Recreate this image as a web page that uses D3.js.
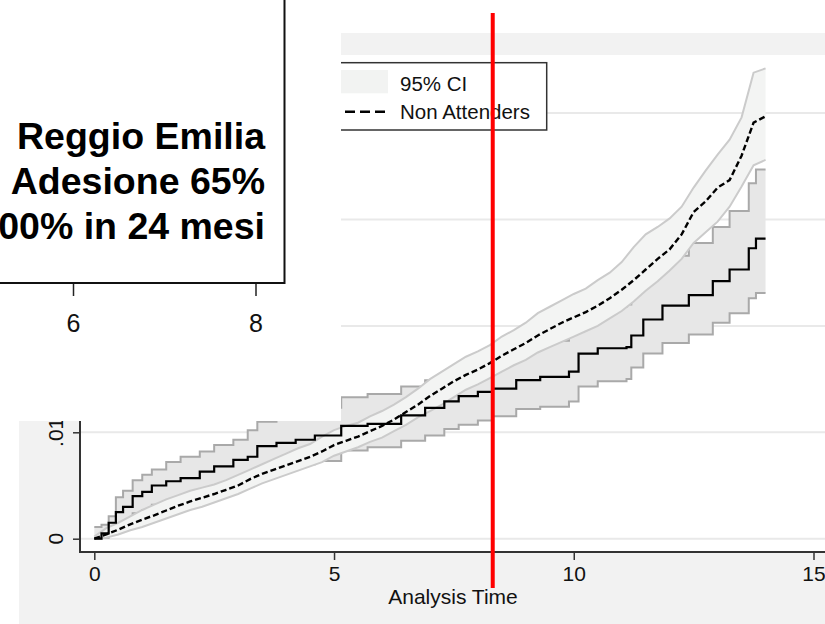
<!DOCTYPE html>
<html>
<head>
<meta charset="utf-8">
<script src="https://cdn.jsdelivr.net/npm/d3@7"></script>
<style>
  body { margin: 0; background: #fff; }
  svg { display: block; font-family: "Liberation Sans", Arial, sans-serif; }
</style>
</head>
<body>
<div id="chart"></div>
<script>
// Attenders (solid) - Nelson-Aalen cumulative hazard with 95% CI
const attTimes = [0, 0.15, 0.3, 0.45, 0.6, 0.8, 1.0, 1.2, 1.5, 1.8, 2.2, 2.5, 2.9, 3.2, 3.4, 3.8, 4.2, 4.6, 5.15, 5.7, 6.4, 6.9, 7.3, 7.6, 8.0, 8.3, 8.8, 9.3, 9.9, 10.1, 10.5, 11.1, 11.2, 11.45, 11.85, 12.4, 12.9, 13.25, 13.65, 13.8, 14.0];
const attHaz = [0, .0005, .0015, .0025, .0030, .0040, .0044, .0050, .0054, .0057, .0063, .0068, .0074, .0077, .0087, .0090, .0093, .0097, .0106, .0108, .0116, .0123, .0129, .0134, .0138, .0141, .0149, .0152, .0157, .0174, .0179, .0180, .0191, .0206, .0219, .0229, .0242, .0253, .0273, .0282, .0282];
const attUpper = [.0011, .0013, .0021, .0039, .0045, .0055, .0060, .0065, .0072, .0077, .0082, .0088, .0093, .0102, .0110, .0114, .0118, .0123, .0133, .0136, .0143, .0149, .0155, .0162, .0170, .0173, .0182, .0186, .0193, .0212, .0218, .0220, .0233, .0251, .0266, .0278, .0293, .0308, .0334, .0347, .0347];
const attLower = [0, .0001, .0006, .0012, .0016, .0024, .0027, .0032, .0035, .0038, .0043, .0047, .0052, .0055, .0064, .0067, .0070, .0073, .0083, .0086, .0092, .0097, .0103, .0107, .0111, .0115, .0122, .0124, .0129, .0143, .0148, .0150, .0161, .0174, .0184, .0192, .0203, .0212, .0226, .0231, .0231];

// Non Attenders (dashed)
const nonTimes = [0, 0.25, 0.5, 0.75, 1, 1.25, 1.5, 1.75, 2, 2.25, 2.5, 2.75, 3, 3.25, 3.5, 3.75, 4, 4.25, 4.5, 4.75, 5, 5.25, 5.5, 5.75, 6, 6.25, 6.5, 6.75, 7, 7.25, 7.5, 7.75, 8, 8.25, 8.5, 8.75, 9, 9.25, 9.5, 9.75, 10, 10.25, 10.5, 10.75, 11, 11.25, 11.5, 11.75, 12, 12.25, 12.5, 12.75, 13, 13.25, 13.5, 13.75, 14];
const nonHaz = [0, .0004, .00085, .00135, .0018, .0022, .00265, .0031, .0035, .00385, .0042, .0046, .0050, .0056, .0061, .0065, .0069, .0073, .0077, .0082, .0088, .0092, .0096, .0101, .0106, .0112, .0119, .0126, .0134, .0141, .0148, .0154, .0159, .0165, .0172, .0178, .0184, .0191, .0197, .0203, .0208, .0213, .0219, .0226, .0234, .0243, .0253, .0263, .0272, .0286, .0307, .0317, .0330, .0337, .0360, .0391, .0397];
const nonUpper = [.0002, .0010, .0015, .0021, .0027, .0032, .0037, .0041, .0045, .0048, .0051, .0055, .0060, .0065, .0070, .0075, .0080, .0085, .0089, .0096, .0102, .0106, .0109, .0115, .0120, .0126, .0133, .0141, .0150, .0157, .0164, .0171, .0176, .0182, .0190, .0196, .0203, .0212, .0218, .0224, .0230, .0235, .0243, .0250, .0260, .0274, .0286, .0293, .0301, .0312, .0330, .0346, .0361, .0375, .0396, .0438, .0442];
const nonLower = [0, .0001, .0004, .0008, .0011, .0015, .0019, .0023, .0027, .0030, .0034, .0038, .0042, .0047, .0052, .0056, .0060, .0064, .0068, .0072, .0078, .0082, .0086, .0091, .0095, .0101, .0107, .0114, .0120, .0126, .0133, .0140, .0145, .0151, .0157, .0163, .0168, .0175, .0180, .0185, .0190, .0195, .0200, .0207, .0214, .0223, .0233, .0242, .0252, .0263, .0278, .0288, .0298, .0312, .0331, .0351, .0356];

const xTicks = [0, 5, 10, 15];
const yTicks = [0, 0.01, 0.02, 0.03, 0.04];
const yLabelTicks = [0, 0.01];
const markerTime = 8.31;

const legendItems = ["95% CI", "Non Attenders"];
const boxLines = ["Reggio Emilia", "Adesione 65%", "00% in 24 mesi"];
const boxTicks = [6, 8];

const W = 825, H = 624;
const svg = d3.select("#chart").append("svg")
    .attr("width", W)
    .attr("height", H);

svg.append("rect").attr("width", W).attr("height", H).attr("fill", "#fff");

// stata outer region and plot region
svg.append("rect").attr("x", 19).attr("y", 33).attr("width", W - 19).attr("height", H - 33).attr("fill", "#f2f2f2");
svg.append("rect").attr("x", 80).attr("y", 55).attr("width", W - 80).attr("height", 552 - 55).attr("fill", "#fff");

const x = d3.scaleLinear().domain([0, 15]).range([94.3, 813.5]);
const y = d3.scaleLinear().domain([0, 0.04]).range([538.7, 113.1]);

// gridlines
svg.append("g").selectAll("line")
    .data(yTicks)
    .enter().append("line")
    .attr("x1", 80).attr("x2", W)
    .attr("y1", d => y(d)).attr("y2", d => y(d))
    .attr("stroke", "#e9e9e9")
    .attr("stroke-width", 2);

svg.append("defs").append("clipPath").attr("id", "plotclip")
    .append("rect").attr("x", 80).attr("y", 55).attr("width", W - 80).attr("height", 497);

const plot = svg.append("g").attr("clip-path", "url(#plotclip)");

const toRows = (times, est, lo, hi) => times.map((t, i) => ({ t: t, est: est[i], lo: lo[i], hi: hi[i] }));
const att = toRows(attTimes, attHaz, attLower, attUpper);
const non = toRows(nonTimes, nonHaz, nonLower, nonUpper);

const bandOf = curve => d3.area().curve(curve)
    .x(d => x(d.t)).y0(d => y(d.lo)).y1(d => y(d.hi));
const lineOf = (key, curve) => d3.line().curve(curve)
    .x(d => x(d.t)).y(d => y(d[key]));

function drawBand(rows, curve, fill, edge) {
    plot.append("path").datum(rows).attr("d", bandOf(curve)).attr("fill", fill);
    ["lo", "hi"].forEach(k => {
        plot.append("path").datum(rows).attr("d", lineOf(k, curve))
            .attr("fill", "none").attr("stroke", edge).attr("stroke-width", 2);
    });
}
drawBand(att, d3.curveStepAfter, "#e7e7e7", "#a9a9a9");
drawBand(non, d3.curveLinear, "#f3f4f3", "#cbcbcb");

plot.append("path").datum(att).attr("d", lineOf("est", d3.curveStepAfter))
    .attr("fill", "none").attr("stroke", "#000").attr("stroke-width", 2.2);
plot.append("path").datum(non).attr("d", lineOf("est", d3.curveLinear))
    .attr("fill", "none").attr("stroke", "#000").attr("stroke-width", 2.4)
    .attr("stroke-dasharray", "6,3");

// x axis
svg.append("line").attr("x1", 80).attr("x2", W).attr("y1", 552).attr("y2", 552)
    .attr("stroke", "#333").attr("stroke-width", 2);
const xAxis = svg.append("g").attr("transform", "translate(0,552)")
    .call(d3.axisBottom(x).tickValues(xTicks).tickSize(8).tickPadding(6).tickFormat(d3.format("d")));
xAxis.select(".domain").remove();
xAxis.selectAll("line").attr("stroke", "#333").attr("stroke-width", 1.5);
xAxis.selectAll("text").attr("font-size", 21).attr("fill", "#111")
    .attr("font-family", "Liberation Sans, Arial, sans-serif");

svg.append("text").attr("x", 453).attr("y", 603.5)
    .attr("text-anchor", "middle").attr("font-size", 21).attr("fill", "#111")
    .text("Analysis Time");

// y axis
svg.append("line").attr("x1", 80).attr("x2", 80).attr("y1", 55).attr("y2", 553)
    .attr("stroke", "#333").attr("stroke-width", 2);
const yAxis = svg.append("g").attr("transform", "translate(80,0)")
    .call(d3.axisLeft(y).tickValues(yTicks).tickSize(7).tickFormat(""));
yAxis.select(".domain").remove();
yAxis.selectAll("line").attr("stroke", "#333").attr("stroke-width", 1.5);
svg.append("g").selectAll("text")
    .data(yLabelTicks)
    .enter().append("text")
    .attr("transform", d => `translate(63,${y(d)}) rotate(-90)`)
    .attr("text-anchor", "middle")
    .attr("font-size", 21).attr("fill", "#111")
    .text(d => d === 0 ? "0" : d3.format(".2f")(d).replace(/^0/, ""));

// legend
const legend = svg.append("g");
legend.append("rect").attr("x", 200).attr("y", 62.7).attr("width", 346.7).attr("height", 67.3)
    .attr("fill", "#fff").attr("stroke", "#333").attr("stroke-width", 1.5);
legend.append("rect").attr("x", 300).attr("y", 70).attr("width", 88).attr("height", 23.3)
    .attr("fill", "#f2f3f2");
legend.append("line").attr("x1", 300).attr("x2", 388).attr("y1", 111.7).attr("y2", 111.7)
    .attr("stroke", "#000").attr("stroke-width", 2.6).attr("stroke-dasharray", "10,5");
legend.selectAll("text.item")
    .data(legendItems)
    .enter().append("text")
    .attr("class", "item")
    .attr("x", 400)
    .attr("y", (d, i) => i === 0 ? 90.7 : 119)
    .attr("font-size", 20.5).attr("fill", "#111")
    .text(d => d);

// overlapping white panel with the text box
svg.append("rect").attr("x", 0).attr("y", 0).attr("width", 341).attr("height", 421).attr("fill", "#fff");
svg.append("path").attr("d", "M0,283 H284.5 V0")
    .attr("fill", "none").attr("stroke", "#111").attr("stroke-width", 2);
const bx = d3.scaleLinear().domain([6, 8]).range([73, 255.5]);
const boxAxis = svg.append("g").attr("transform", "translate(0,284)")
    .call(d3.axisBottom(bx).tickValues(boxTicks).tickSize(12).tickPadding(18).tickFormat(d3.format("d")));
boxAxis.select(".domain").remove();
boxAxis.selectAll("line").attr("stroke", "#222").attr("stroke-width", 1.5);
boxAxis.selectAll("text").attr("font-size", 25).attr("fill", "#111")
    .attr("font-family", "Liberation Sans, Arial, sans-serif");

svg.append("g").selectAll("text")
    .data(boxLines)
    .enter().append("text")
    .attr("x", 265)
    .attr("y", (d, i) => 149.3 + i * 45)
    .attr("text-anchor", "end")
    .attr("font-size", 37.5)
    .attr("font-weight", "bold")
    .attr("fill", "#000")
    .text(d => d);

// red reference line
svg.append("line")
    .attr("x1", x(markerTime)).attr("x2", x(markerTime))
    .attr("y1", 13).attr("y2", 588)
    .attr("stroke", "#ff0000").attr("stroke-width", 4);
</script>
</body>
</html>
